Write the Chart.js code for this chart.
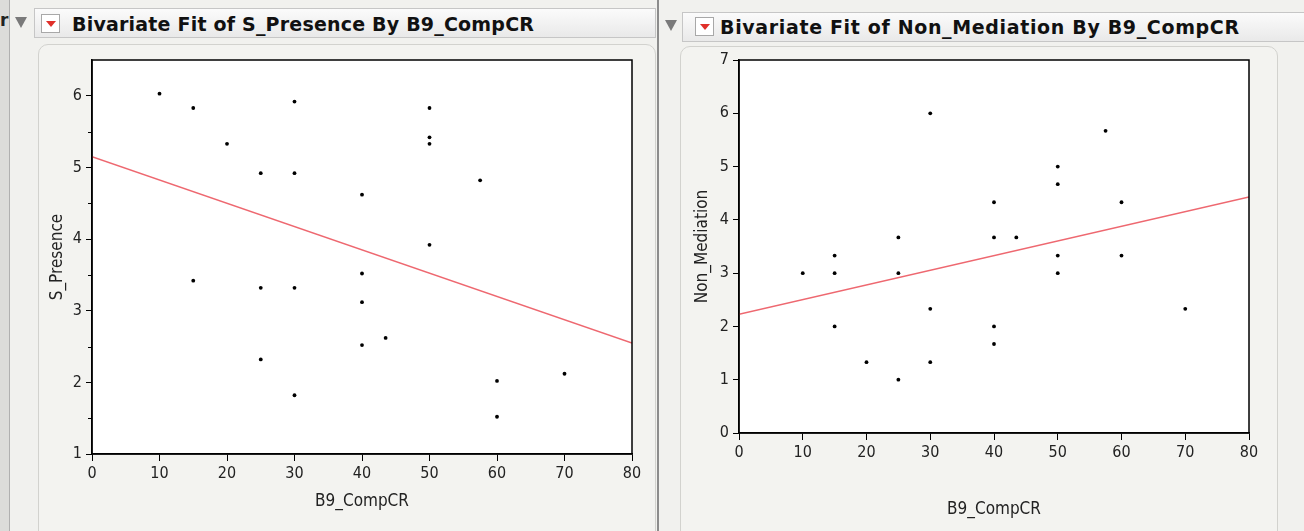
<!DOCTYPE html>
<html>
<head>
<meta charset="utf-8">
<script src="https://cdn.jsdelivr.net/npm/chart.js@4.4.1/dist/chart.umd.min.js"></script>
<style>
  body { margin: 0; width: 1304px; height: 531px; background: #f1f1ee; position: relative; overflow: hidden; font-family: "DejaVu Sans", sans-serif; }
  .abs { position: absolute; }
  .strip { left: 0; top: 0; width: 9px; height: 531px; background: #dcdcda; border-right: 1px solid #b0b0b0; }
  .sep { left: 657px; top: 0; width: 2px; height: 531px; background: #8c8c8c; }
  .bar { height: 28px; border: 1px solid #c6c6c6; background: linear-gradient(#fbfbfb, #e9e9e9); }
  .tri { width: 0; height: 0; border-left: 6px solid transparent; border-right: 6px solid transparent; border-top: 11px solid #7a7a7a; }
  .icon { width: 19px; height: 19px; border: 1px solid #a8a8a8; background: #fff; box-sizing: border-box; }
  .icon::after { content: ""; position: absolute; left: 4px; top: 6px; border-left: 5px solid transparent; border-right: 5px solid transparent; border-top: 6px solid #e0302a; }
  .title { font-weight: bold; font-size: 19px; letter-spacing: 0.2px; color: #111; white-space: nowrap; }
  .panel { border: 1px solid #d2d2ce; border-radius: 10px; background: #f3f3f0; }
</style>
</head>
<body>
<div class="abs strip"></div>
<div class="abs" style="left:0;top:10px;font-size:17px;font-weight:bold;color:#222;">r</div>
<div class="abs sep"></div>

<div class="abs bar" style="left:34px;top:8px;width:620px;"></div>
<div class="abs tri" style="left:15px;top:17px;"></div>
<div class="abs icon" style="left:41px;top:14px;"></div>
<div class="abs title" style="left:72px;top:13px;">Bivariate Fit of S_Presence By B9_CompCR</div>
<div class="abs panel" style="left:38px;top:44px;width:616px;height:500px;"></div>
<canvas class="abs" id="presenceChart" width="617" height="486" style="left:38px;top:44px;"></canvas>

<div class="abs bar" style="left:682px;top:12px;width:640px;"></div>
<div class="abs tri" style="left:665px;top:20px;"></div>
<div class="abs icon" style="left:695px;top:17px;"></div>
<div class="abs title" style="left:720px;top:16px;letter-spacing:0.65px;">Bivariate Fit of Non_Mediation By B9_CompCR</div>
<div class="abs panel" style="left:680px;top:46px;width:596px;height:500px;"></div>
<canvas class="abs" id="mediationChart" width="597" height="485" style="left:680px;top:46px;"></canvas>

<script>
// values
const xTicks = [0, 10, 20, 30, 40, 50, 60, 70, 80];

const presenceX = [10, 15, 15, 20, 25, 25, 25, 30, 30, 30, 30, 40, 40, 40, 40, 43.5, 50, 50, 50, 50, 57.5, 60, 60, 70];
const presenceY = [6.03, 5.83, 3.42, 5.33, 4.92, 3.32, 2.32, 5.92, 4.92, 3.32, 1.82, 4.62, 3.52, 3.12, 2.52, 2.62, 5.83, 5.42, 5.33, 3.92, 4.82, 2.02, 1.52, 2.12];
const presenceFit = [5.15, 2.55]; // fit line at x = 0 and x = 80

const mediationX = [10, 15, 15, 15, 20, 25, 25, 25, 30, 30, 30, 40, 40, 40, 40, 43.5, 50, 50, 50, 50, 57.5, 60, 60, 70];
const mediationY = [3.0, 3.33, 3.0, 2.0, 1.33, 3.67, 3.0, 1.0, 6.0, 2.33, 1.33, 4.33, 3.67, 2.0, 1.67, 3.67, 5.0, 4.67, 3.33, 3.0, 5.67, 4.33, 3.33, 2.33];
const mediationFit = [2.23, 4.43];

const tickFont = { family: '"DejaVu Sans Condensed", "DejaVu Sans", sans-serif', size: 16 };
const titleFont = { family: '"DejaVu Sans Condensed", "DejaVu Sans", sans-serif', size: 17 };

// white plot area, black frame round it, plus short minor ticks on y when asked
const framePlugin = {
    id: 'frame',
    beforeDraw(chart) {
        const { ctx, chartArea: a } = chart;
        ctx.save();
        ctx.fillStyle = '#fff';
        ctx.fillRect(a.left, a.top, a.right - a.left, a.bottom - a.top);
        ctx.restore();
    },
    afterDraw(chart, args, opts) {
        const { ctx, chartArea: a } = chart;
        ctx.save();
        ctx.strokeStyle = '#000';
        ctx.lineWidth = 1.5;
        ctx.strokeRect(a.left, a.top, a.right - a.left, a.bottom - a.top);
        if (opts.minorY) {
            const y = chart.scales.y;
            ctx.lineWidth = 1;
            for (const v of opts.minorY) {
                const p = Math.round(y.getPixelForValue(v)) + 0.5;
                ctx.beginPath();
                ctx.moveTo(a.left - 4, p);
                ctx.lineTo(a.left, p);
                ctx.stroke();
            }
        }
        ctx.restore();
    }
};

function makeChart(id, xs, ys, fit, cfg) {
    const ctx = document.getElementById(id).getContext('2d');
    const points = xs.map((x, i) => ({ x: x, y: ys[i] }));
    new Chart(ctx, {
        type: 'scatter',
        data: {
            datasets: [{
                data: points,
                pointRadius: 1.9,
                pointBackgroundColor: '#000',
                pointBorderWidth: 0
            }, {
                data: [{ x: 0, y: fit[0] }, { x: 80, y: fit[1] }],
                showLine: true,
                pointRadius: 0,
                borderColor: '#ee6870',
                borderWidth: 1.5
            }]
        },
        options: {
            responsive: false,
            animation: false,
            layout: { padding: cfg.padding },
            plugins: {
                legend: { display: false },
                tooltip: { enabled: false },
                frame: { minorY: cfg.minorY }
            },
            scales: {
                x: {
                    type: 'linear',
                    min: 0,
                    max: 80,
                    afterBuildTicks: s => { s.ticks = xTicks.map(v => ({ value: v })); },
                    afterFit: s => { s.height = cfg.xHeight; },
                    grid: { drawOnChartArea: false, tickLength: 7, color: '#000' },
                    border: { color: '#000', width: 1.5 },
                    ticks: { color: '#222', font: tickFont, padding: 3, maxRotation: 0 },
                    title: { display: true, text: 'B9_CompCR', color: '#222', font: titleFont, padding: { top: 0, bottom: cfg.xTitlePad } }
                },
                y: {
                    min: cfg.yMin,
                    max: cfg.yMax,
                    afterBuildTicks: s => { s.ticks = cfg.yTicks.map(v => ({ value: v })); },
                    afterFit: s => { s.width = cfg.yWidth; },
                    grid: { drawOnChartArea: false, tickLength: 6, color: '#000' },
                    border: { color: '#000', width: 1.5 },
                    ticks: { color: '#222', font: tickFont, padding: 4 },
                    title: { display: true, text: cfg.yTitle, color: '#222', font: titleFont, padding: { top: cfg.yTitlePad, bottom: 0 } }
                }
            }
        },
        plugins: [framePlugin]
    });
}

makeChart('presenceChart', presenceX, presenceY, presenceFit, {
    padding: { top: 16, right: 23, left: 0, bottom: 0 },
    yMin: 1, yMax: 6.5,
    yTicks: [1, 2, 3, 4, 5, 6],
    minorY: [1.5, 2.5, 3.5, 4.5, 5.5],
    yTitle: 'S_Presence',
    yWidth: 54, yTitlePad: 9,
    xHeight: 76, xTitlePad: 18
});

makeChart('mediationChart', mediationX, mediationY, mediationFit, {
    padding: { top: 14, right: 28, left: 0, bottom: 0 },
    yMin: 0, yMax: 7,
    yTicks: [0, 1, 2, 3, 4, 5, 6, 7],
    minorY: null,
    yTitle: 'Non_Mediation',
    yWidth: 59, yTitlePad: 12,
    xHeight: 98, xTitlePad: 11
});
</script>
</body>
</html>
